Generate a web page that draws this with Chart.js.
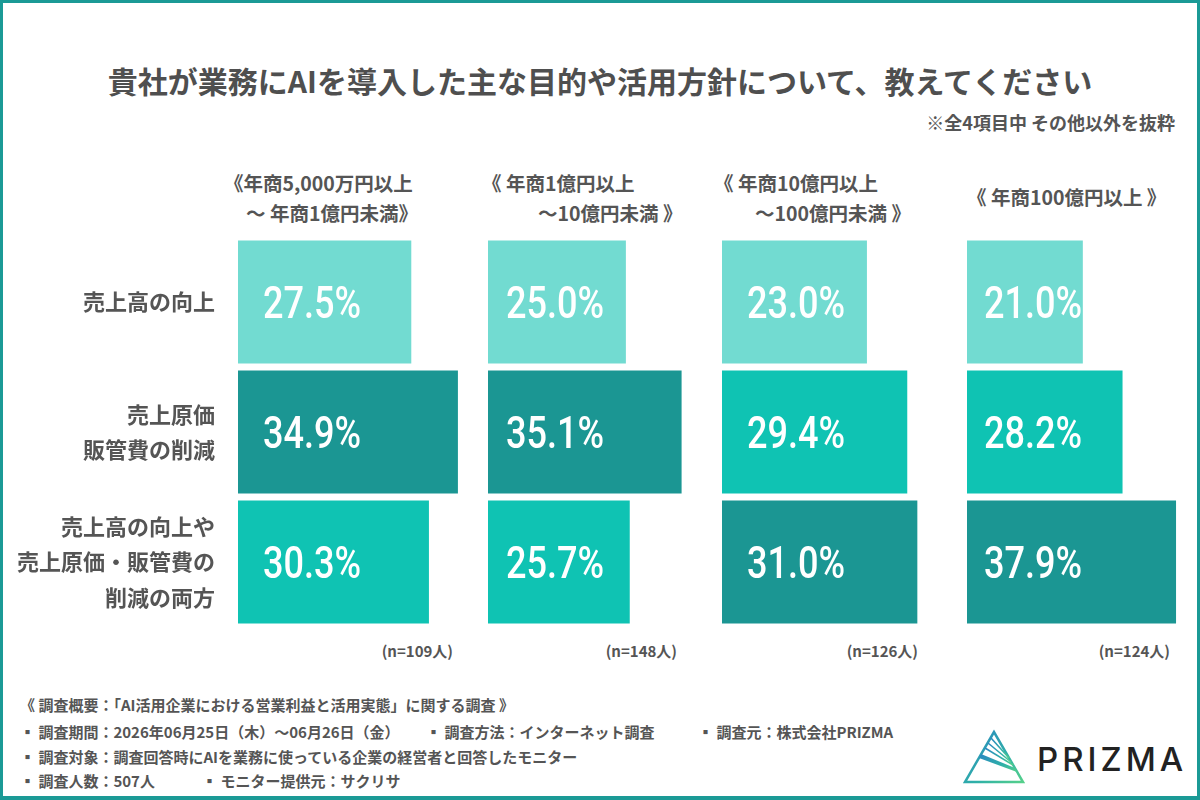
<!DOCTYPE html>
<html lang="ja">
<head>
<meta charset="utf-8">
<script src="https://cdn.jsdelivr.net/npm/chart.js@4"></script>
<style>
  html, body { margin: 0; padding: 0; }
  body {
    width: 1200px; height: 800px; position: relative; overflow: hidden;
    background: #fff; font-family: "Noto Sans CJK JP", "Noto Sans", sans-serif; color: #555;
  }
  .frame { position: absolute; left: 0; top: 0; width: 1200px; height: 800px; box-sizing: border-box;
    border: 3px solid #1b9a96; border-bottom-width: 4px; pointer-events: none; }
  .abs { position: absolute; white-space: nowrap; font-weight: 700; }
  .title { left: 0; width: 1200px; top: 60px; text-align: center; font-size: 30px; line-height: 40px; color: #4f4f4f; }
  .note { right: 25px; top: 110px; font-size: 18px; line-height: 24px; }
  .head { font-size: 19.5px; line-height: 30px; }
  .n { font-size: 15px; line-height: 20px; text-align: right; }
  .foot { font-size: 15px; line-height: 20px; }
  .box { position: absolute; top: 237px; height: 390px; }
  .logo { left: 1037px; top: 743px; font-family: Inter, Lato, sans-serif; font-weight: 500;
    font-size: 33px; line-height: 33px; letter-spacing: 4px; color: #222; }
</style>
</head>
<body>
<div class="abs title">貴社が業務にAIを導入した主な目的や活用方針について、教えてください</div>
<div class="abs note">※全4項目中 その他以外を抜粋</div>

<div class="abs head" style="left:224px;top:168px">《年商5,000万円以上</div>
<div class="abs head" style="left:246px;top:198px">～ 年商1億円未満》</div>
<div class="abs head" style="left:482px;top:168px">《 年商1億円以上</div>
<div class="abs head" style="left:538px;top:198px">～10億円未満 》</div>
<div class="abs head" style="left:714px;top:168px">《 年商10億円以上</div>
<div class="abs head" style="left:755px;top:198px">～100億円未満 》</div>
<div class="abs head" style="left:967px;top:182px">《 年商100億円以上 》</div>

<div class="box" style="left:0;width:468px"><canvas id="c0"></canvas></div>
<div class="box" style="left:488px;width:230px"><canvas id="c1"></canvas></div>
<div class="box" style="left:722px;width:230px"><canvas id="c2"></canvas></div>
<div class="box" style="left:967px;width:230px"><canvas id="c3"></canvas></div>

<div id="nlabels"></div>

<div class="abs foot" style="left:20px;top:695px">《 調査概要：「AI活用企業における営業利益と活用実態」に関する調査 》</div>
<div class="abs foot" style="left:20px;top:722px">▪ 調査期間：2026年06月25日（木）～06月26日（金）</div>
<div class="abs foot" style="left:426px;top:722px">▪ 調査方法：インターネット調査</div>
<div class="abs foot" style="left:698px;top:722px">▪ 調査元：株式会社PRIZMA</div>
<div class="abs foot" style="left:20px;top:747px">▪ 調査対象：調査回答時にAIを業務に使っている企業の経営者と回答したモニター</div>
<div class="abs foot" style="left:20px;top:771px">▪ 調査人数：507人</div>
<div class="abs foot" style="left:202px;top:771px">▪ モニター提供元：サクリサ</div>

<svg style="position:absolute;left:960px;top:726px" width="70" height="62" viewBox="0 0 70 62">
  <defs>
    <linearGradient id="lg" x1="0" y1="0" x2="1" y2="1">
      <stop offset="0" stop-color="#2a86c2"/>
      <stop offset="0.6" stop-color="#2fb0a8"/>
      <stop offset="1" stop-color="#55d08a"/>
    </linearGradient>
  </defs>
  <polygon points="34,6 5,56 63,56" fill="none" stroke="url(#lg)" stroke-width="2.5" stroke-linejoin="miter"/>
  <line x1="31" y1="12" x2="49" y2="32" stroke="url(#lg)" stroke-width="1.6"/>
  <line x1="28" y1="17" x2="51" y2="36" stroke="url(#lg)" stroke-width="1.6"/>
  <line x1="25" y1="22" x2="53" y2="39" stroke="url(#lg)" stroke-width="1.6"/>
  <polygon points="21,28 55,42 57,46 19,32" fill="url(#lg)"/>
</svg>
<div class="abs logo">PRIZMA</div>

<div class="frame"></div>

<script>
// 設問の選択肢
const categories = [
  ['売上高の向上'],
  ['売上原価', '販管費の削減'],
  ['売上高の向上や', '売上原価・販管費の', '削減の両方']
];

// 年商区分ごとの回答率 (%)
const sales5000manTo1oku = [27.5, 34.9, 30.3];
const sales1okuTo10oku = [25.0, 35.1, 25.7];
const sales10okuTo100oku = [23.0, 29.4, 31.0];
const sales100okuOver = [21.0, 28.2, 37.9];

const sampleSizes = [109, 148, 126, 124];

// 表示用の設定
const panels = [sales5000manTo1oku, sales1okuTo10oku, sales10okuTo100oku, sales100okuOver];
const axisMax = [36.5, 41.7, 36.5, 41.7];
const labelOffset = [25, 18, 25, 17];
const nRight = [453, 677, 918, 1170];

const LIGHT = '#72dbd1';
const MID = '#0fc3b3';
const DARK = '#1b9693';

function barColors(values) {
  const max = Math.max(...values);
  const min = Math.min(...values);
  return values.map(v => v === max ? DARK : (v === min ? LIGHT : MID));
}

// バー内の数値 (細めの字幅に寄せる)
const valueLabels = {
  id: 'valueLabels',
  afterDatasetsDraw(chart) {
    const ctx = chart.ctx;
    const off = chart.options.plugins.valueLabels.offset;
    const meta = chart.getDatasetMeta(0);
    ctx.save();
    ctx.fillStyle = '#ffffff';
    ctx.font = '500 44px Roboto, sans-serif';
    ctx.textAlign = 'left';
    ctx.textBaseline = 'middle';
    meta.data.forEach((bar, i) => {
      const v = chart.data.datasets[0].data[i];
      ctx.save();
      ctx.translate(bar.base + off, bar.y + 5);
      ctx.scale(0.82, 1);
      ctx.fillText(v.toFixed(1) + '%', 0, 0);
      ctx.restore();
    });
    ctx.restore();
  }
};

panels.forEach((values, p) => {
  const showAxis = p === 0;
  const yScale = {
    display: showAxis,
    grid: { display: false, drawTicks: false },
    border: { display: false },
    ticks: {
      padding: 23,
      color: '#555',
      font: { family: '"Noto Sans CJK JP", sans-serif', size: 22, weight: 'bold', lineHeight: 1.6 }
    }
  };
  if (showAxis) {
    yScale.afterFit = scale => {
      scale.width = 238;
      scale.paddingTop = 0;
      scale.paddingBottom = 0;
    };
  }
  new Chart(document.getElementById('c' + p), {
    type: 'bar',
    data: {
      labels: categories,
      datasets: [{
        data: values,
        backgroundColor: barColors(values),
        borderWidth: 0,
        barPercentage: 0.946,
        categoryPercentage: 1
      }]
    },
    options: {
      indexAxis: 'y',
      responsive: true,
      maintainAspectRatio: false,
      animation: false,
      layout: { padding: 0 },
      plugins: {
        legend: { display: false },
        tooltip: { enabled: false },
        valueLabels: { offset: labelOffset[p] }
      },
      scales: {
        x: { display: false, min: 0, max: axisMax[p] },
        y: yScale
      }
    },
    plugins: [valueLabels]
  });
});

// サンプル数
const nWrap = document.getElementById('nlabels');
sampleSizes.forEach((n, p) => {
  const d = document.createElement('div');
  d.className = 'abs n';
  d.style.left = (nRight[p] - 200) + 'px';
  d.style.width = '200px';
  d.style.top = '641px';
  d.textContent = '(n=' + n + '人)';
  nWrap.appendChild(d);
});
</script>
</body>
</html>
